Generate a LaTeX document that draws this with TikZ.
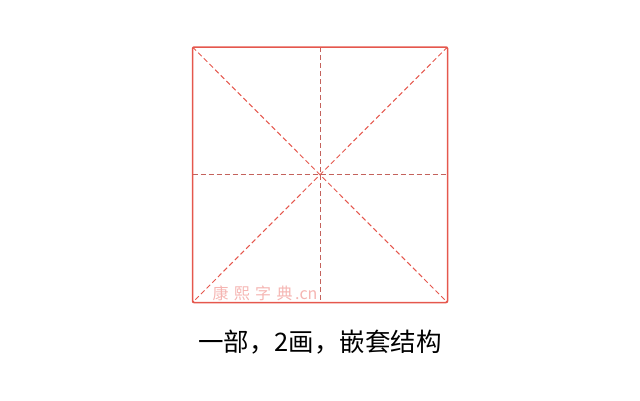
\documentclass[tikz,border=0pt]{standalone}
\usetikzlibrary{calc}
\usepackage{fontspec}
\newfontfamily\cjk{Noto Sans CJK SC}
\definecolor{gridred}{HTML}{E5574D}
\definecolor{midred}{HTML}{C4625C}
\definecolor{markpink}{HTML}{F5B5B2}
\tikzset{guide/.style={gridred, line width=1pt, dash pattern=on 5pt off 3pt}}

\begin{document}
\begin{tikzpicture}[x=1pt, y=-1pt]
  \useasboundingbox (0,0) rectangle (640,400);
  \coordinate (nw) at (192.5,47);
  \coordinate (se) at (447.5,302.5);
  \coordinate (ne) at (se |- nw);
  \coordinate (sw) at (nw |- se);
  \coordinate (c) at ($(nw)!0.5!(se)$);
  \draw[guide] (nw) -- (se);
  \draw[guide] (ne) -- (sw);
  \draw[guide, midred] (c |- nw) -- (c |- se);
  \draw[guide, midred] (c -| nw) -- (c -| se);
  \node[markpink, font=\cjk\fontsize{16}{16}\selectfont] (mark) at (265,293) {康\,\,熙\,\,字\,\,典\,.cn};
  \draw[gridred, line width=1.5pt, rounded corners=1.5pt] (nw) rectangle (se);
  \node[black, font=\cjk\fontsize{25.5}{26}\selectfont] (caption) at (320,342) {一部，2画，嵌套结构};
\end{tikzpicture}
\end{document}
